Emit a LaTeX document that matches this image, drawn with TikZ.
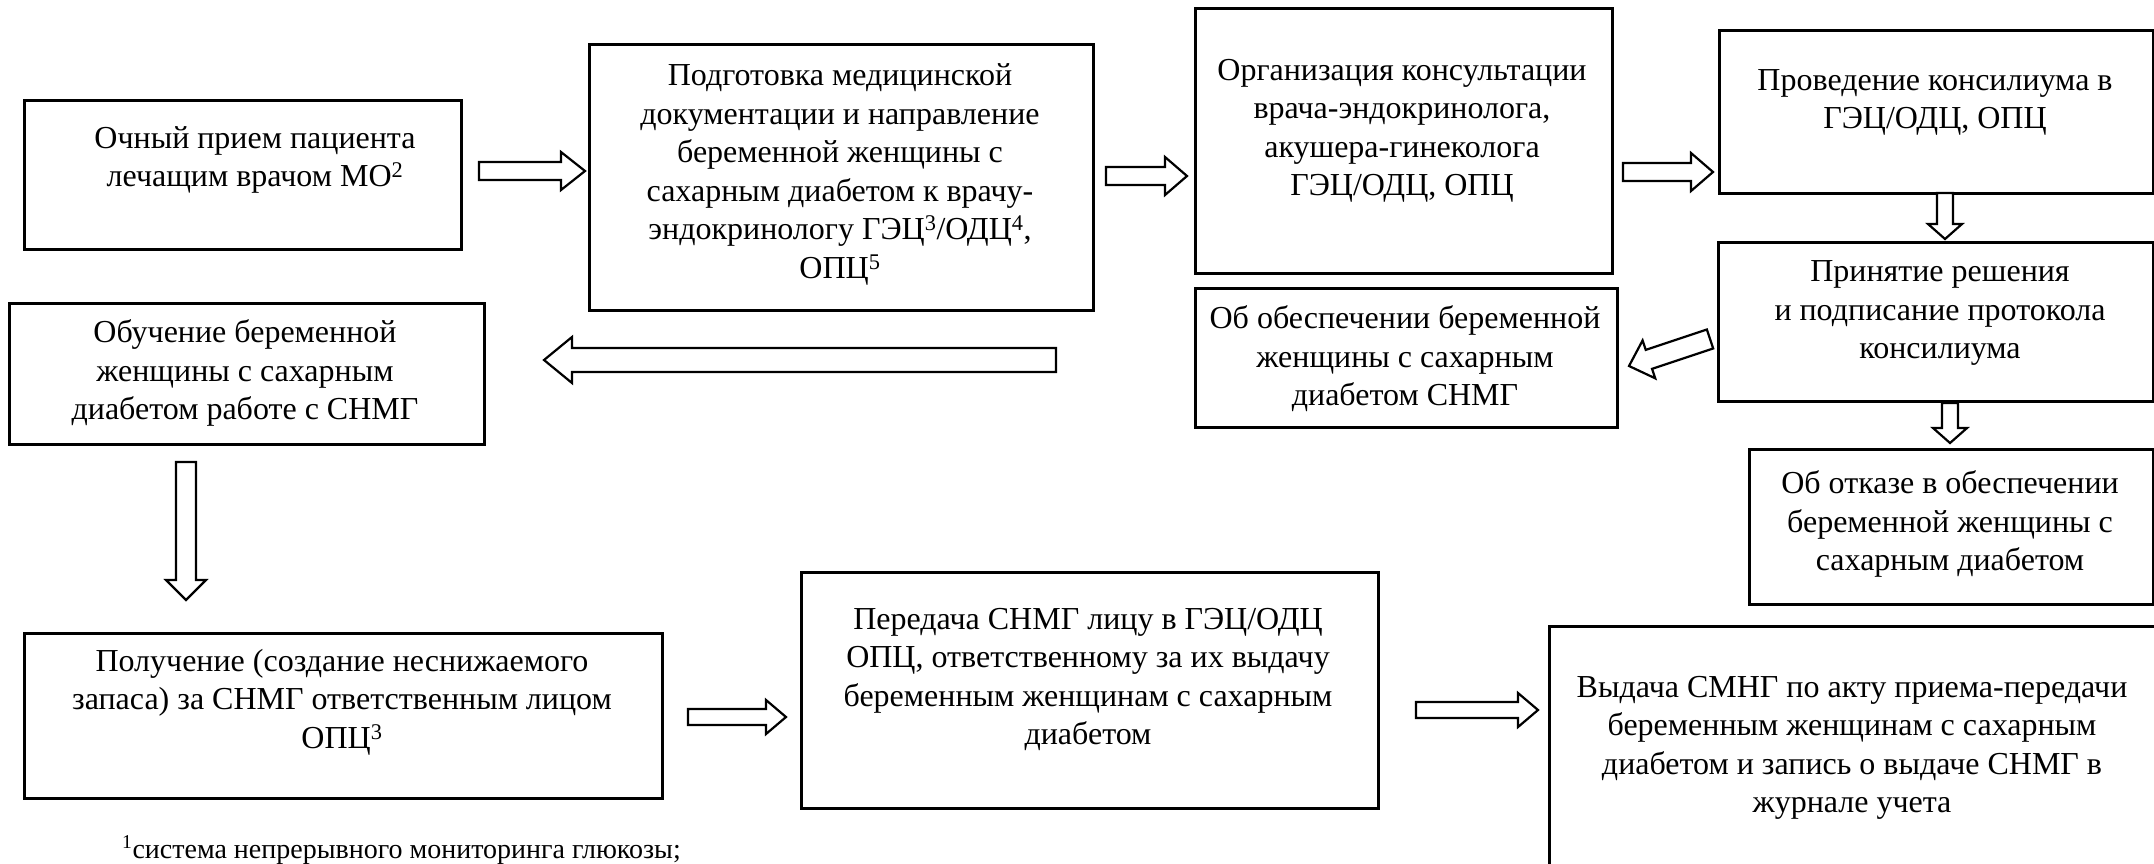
\documentclass[tikz,border=0pt]{standalone}
\usepackage{fontspec}
\setmainfont{Liberation Serif}
\usetikzlibrary{calc}
\tikzset{
  box/.style={draw, line width=2.6pt, anchor=north west, inner sep=0pt},
  txt/.style={align=center, font=\fontsize{32}{38.5}\selectfont, inner sep=0pt},
  note/.style={anchor=base west, font=\fontsize{28}{33}\selectfont, inner sep=0pt},
  barrow/.style={draw, line width=2.2pt, line join=miter, fill=white},
}
% start, end, body half width, head half width, head length
\newcommand{\blockarrow}[5]{%
  \coordinate (ba-h) at ($(#2)!#5!(#1)$);
  \draw[barrow] ($(#1)!#3!90:(#2)$) -- ($(ba-h)!#3!90:(#2)$) -- ($(ba-h)!#4!90:(#2)$)
    -- (#2) -- ($(ba-h)!#4!-90:(#2)$) -- ($(ba-h)!#3!-90:(#2)$) -- ($(#1)!#3!-90:(#2)$) -- cycle;
}
\begin{document}
\begin{tikzpicture}[x=1pt, y=-1pt]
\useasboundingbox (0,0) rectangle (2154,863);
% boxes
\node[box, minimum width=437pt, minimum height=149pt] (b1) at (23,99) {};
\node[box, minimum width=504pt, minimum height=266pt] (b2) at (588,43) {};
\node[box, minimum width=417pt, minimum height=265pt] (b3) at (1194,7) {};
\node[box, minimum width=434pt, minimum height=163pt] (b4) at (1718,29) {};
\node[box, minimum width=435pt, minimum height=159pt] (b5) at (1717,241) {};
\node[box, minimum width=422pt, minimum height=139pt] (b6) at (1194,287) {};
\node[box, minimum width=475pt, minimum height=141pt] (b7) at (8,302) {};
\node[box, minimum width=404pt, minimum height=155pt] (b8) at (1748,448) {};
\node[box, minimum width=638pt, minimum height=165pt] (b9) at (23,632) {};
\node[box, minimum width=577pt, minimum height=236pt] (b10) at (800,571) {};
\node[box, minimum width=620pt, minimum height=260pt] (b11) at (1548,625) {};
% texts
\node[txt] (t1) at (255,160) {Очный прием пациента\\лечащим врачом МО\textsuperscript{2}};
\node[txt] (t2) at (840,174.5) {Подготовка медицинской\\документации и направление\\беременной женщины с\\сахарным диабетом к врачу-\\эндокринологу ГЭЦ\textsuperscript{3}/ОДЦ\textsuperscript{4},\\ОПЦ\textsuperscript{5}};
\node[txt] (t3) at (1402,131) {Организация консультации\\врача-эндокринолога,\\акушера-гинеколога\\ГЭЦ/ОДЦ, ОПЦ};
\node[txt] (t4) at (1935,102.5) {Проведение консилиума в\\ГЭЦ/ОДЦ, ОПЦ};
\node[txt] (t5) at (1940,313) {Принятие решения\\и подписание протокола\\консилиума};
\node[txt] (t6) at (1405,359) {Об обеспечении беременной\\женщины с сахарным\\диабетом СНМГ};
\node[txt] (t7) at (245,373) {Обучение беременной\\женщины с сахарным\\диабетом работе с СНМГ};
\node[txt] (t8) at (1950,524) {Об отказе в обеспечении\\беременной женщины с\\сахарным диабетом};
\node[txt] (t9) at (342,702) {Получение (создание неснижаемого\\запаса) за СНМГ ответственным лицом\\ОПЦ\textsuperscript{3}};
\node[txt] (t10) at (1088,679.5) {Передача СНМГ лицу в ГЭЦ/ОДЦ\\ОПЦ, ответственному за их выдачу\\беременным женщинам с сахарным\\диабетом};
\node[txt] (t11) at (1852,748) {Выдача СМНГ по акту приема-передачи\\беременным женщинам с сахарным\\диабетом и запись о выдаче СНМГ в\\журнале учета};
\node[note] (foot) at (122,858) {\textsuperscript{1}система непрерывного мониторинга глюкозы;};
% arrow end points
\coordinate (a1s) at (479,171);  \coordinate (a1e) at (585,171);
\coordinate (a2s) at (1106,176); \coordinate (a2e) at (1187,176);
\coordinate (a3s) at (1623,172); \coordinate (a3e) at (1713,172);
\coordinate (a4s) at (1945,193); \coordinate (a4e) at (1945,239);
\coordinate (a5s) at (1710,339); \coordinate (a5e) at (1629,366);
\coordinate (a6s) at (1950,403); \coordinate (a6e) at (1950,443);
\coordinate (a7s) at (1056,360); \coordinate (a7e) at (544,360);
\coordinate (a8s) at (186,462);  \coordinate (a8e) at (186,600);
\coordinate (a9s) at (688,717);  \coordinate (a9e) at (786,717);
\coordinate (a10s) at (1416,710); \coordinate (a10e) at (1538,710);
\blockarrow{a1s}{a1e}{9pt}{19pt}{24pt}
\blockarrow{a2s}{a2e}{9pt}{19pt}{22pt}
\blockarrow{a3s}{a3e}{9pt}{19pt}{22pt}
\blockarrow{a4s}{a4e}{8pt}{17pt}{15pt}
\blockarrow{a5s}{a5e}{10pt}{20pt}{21pt}
\blockarrow{a6s}{a6e}{8pt}{17pt}{15pt}
\blockarrow{a7s}{a7e}{12pt}{23pt}{28pt}
\blockarrow{a8s}{a8e}{10pt}{20pt}{20pt}
\blockarrow{a9s}{a9e}{8pt}{17pt}{20pt}
\blockarrow{a10s}{a10e}{8pt}{17pt}{20pt}
\end{tikzpicture}
\end{document}
